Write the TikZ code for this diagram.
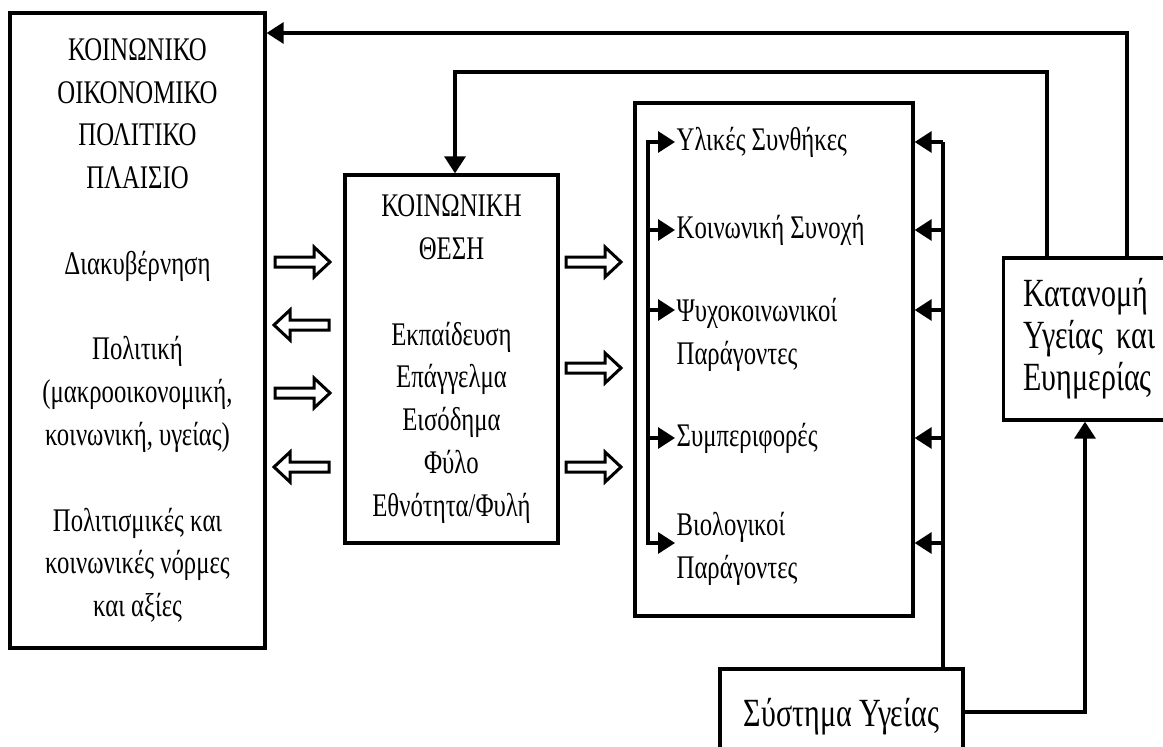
\documentclass[tikz,border=0pt]{standalone}
\usepackage{fontspec}
\setmainfont{Liberation Serif}[FakeStretch=0.75]
\usetikzlibrary{arrows.meta}

\tikzset{
	fat/.pic={\draw[line width=3pt,line join=miter] (-27,-5) -- (12,-5) -- (12,-15) -- (28,0) -- (12,15) -- (12,5) -- (-27,5) -- cycle;}
}

\begin{document}
\begin{tikzpicture}[x=1pt,y=-1pt,line width=3.3pt,
		box/.style={draw,rectangle,inner sep=0pt,align=center,font=\fontsize{33}{42.8}\selectfont},
		lbl/.style={anchor=west,inner sep=0pt,align=left,font=\fontsize{33}{43}\selectfont},
		big/.style={font=\fontsize{40}{42}\selectfont},
		tip/.style={-{Triangle[length=17pt,width=21pt]}}]
		\useasboundingbox (0,0) rectangle (1163,747);
		\node[box,minimum width=255pt,minimum height=635pt] (ctx) at (137.5,330.5) {ΚΟΙΝΩΝΙΚΟ\\ΟΙΚΟΝΟΜΙΚΟ\\ΠΟΛΙΤΙΚΟ\\ΠΛΑΙΣΙΟ\\[42.8pt]Διακυβέρνηση\\[42.8pt]Πολιτική\\(μακροοικονομική,\\κοινωνική, υγείας)\\[42.8pt]Πολιτισμικές και\\κοινωνικές νόρμες\\και αξίες};
		\node[box,minimum width=213pt,minimum height=368pt] (pos) at (451.5,359) {ΚΟΙΝΩΝΙΚΗ\\ΘΕΣΗ\\[42.8pt]Εκπαίδευση\\Επάγγελμα\\Εισόδημα\\Φύλο\\Εθνότητα/Φυλή};
		\node[box,minimum width=278pt,minimum height=513pt] (fac) at (774,359.5) {};
		\node[lbl] (mat) at (675,142) {Υλικές Συνθήκες};
		\node[lbl] (coh) at (675,230) {Κοινωνική Συνοχή};
		\node[lbl] (psy) at (675,335) {Ψυχοκοινωνικοί\\Παράγοντες};
		\node[lbl] (beh) at (675,438) {Συμπεριφορές};
		\node[lbl] (bio) at (675,549) {Βιολογικοί\\Παράγοντες};
		\node[box,big,anchor=west,align=left,inner xsep=20pt,text width=170pt,minimum height=162pt] (dist) at (1002,339) {Κατανομή\\Υγείας και\\Ευημερίας};
		\node[box,big,minimum width=243pt,minimum height=96pt] (hs) at (841.5,717) {Σύστημα Υγείας};
		\foreach \y/\r in {262/0,325/180,393/0,467/180}
			\pic[rotate=\r] at (302,\y) {fat};
		\foreach \y in {262,368,467}
			\pic at (593,\y) {fat};
		\foreach \y/\n in {142/mat,230/coh,310/psy,438/beh,543/bio} {
			\coordinate (l\n) at (648,\y);
			\coordinate (r\n) at (943,\y);
			\draw[tip] (r\n) -- (r\n -| fac.east);
		}
		\foreach \n in {coh,psy,beh}
			\draw[tip] (l\n) -- (l\n -| \n.west);
		\draw[tip] (lbio) -- (lmat) -- (lmat -| mat.west);
		\draw[tip] (lmat) -- (lbio) -- (lbio -| bio.west);
		\draw (rmat |- hs.north) -- (rmat);
		\coordinate (t1) at (1127,33);
		\coordinate (t2) at (1047,72);
		\coordinate (t3) at (455,72);
		\coordinate (t4) at (1085,712);
		\draw[tip] (dist.north -| t1) -- (t1) -- (t1 -| ctx.east);
		\draw[tip] (dist.north -| t2) -- (t2) -- (t3) -- (pos.north -| t3);
		\draw[tip] (hs.east |- t4) -- (t4) -- (dist.south -| t4);
	\end{tikzpicture}
\end{document}
